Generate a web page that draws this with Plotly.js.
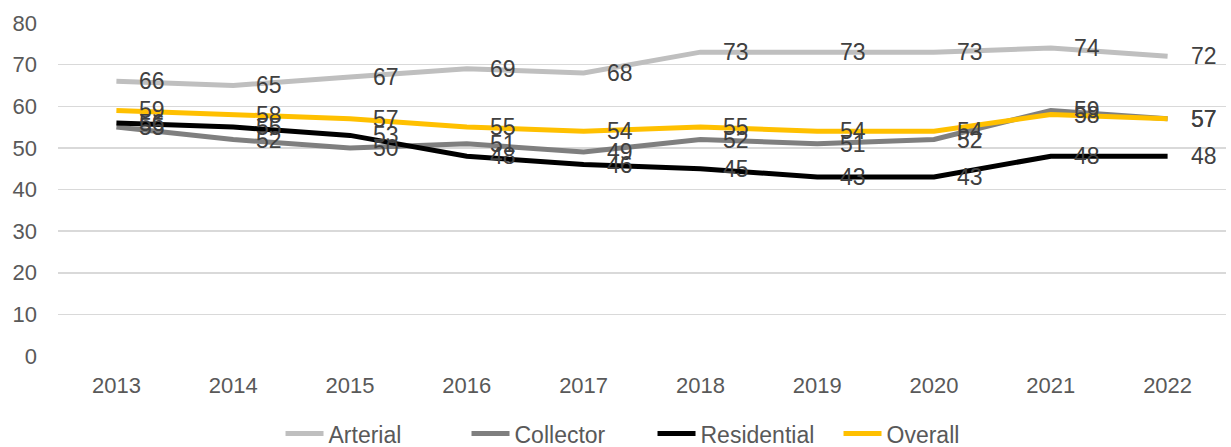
<!DOCTYPE html>
<html>
<head>
<meta charset="utf-8">
<script src="https://cdn.plot.ly/plotly-3.0.1.min.js"></script>
<style>html,body{margin:0;padding:0;background:#fff;}#chart{width:1231px;height:447px;}</style>
</head>
<body>
<div id="chart"></div>
<script>
const years = ['2013','2014','2015','2016','2017','2018','2019','2020','2021','2022'];
const arterial = [66,65,67,69,68,73,73,73,74,72];
const collector = [55,52,50,51,49,52,51,52,59,57];
const residential = [56,55,53,48,46,45,43,43,48,48];
const overall = [59,58,57,55,54,55,54,54,58,57];
const seriesNames = ['Arterial','Collector','Residential','Overall'];
const seriesColors = ['#bfbfbf','#7f7f7f','#000000','#ffc000'];
const seriesData = [arterial, collector, residential, overall];

const FONT = 'Liberation Sans, Arial, sans-serif';
const traces = seriesData.map((d,i)=>({
  type:'scatter', mode:'lines', x:years, y:d, name:seriesNames[i],
  line:{color:seriesColors[i], width:5}, hoverinfo:'skip'
}));

const annotations = [];
seriesData.forEach(d=>{
  d.forEach((v,j)=>{
    annotations.push({x:j, y:v, xref:'x', yref:'y', text:String(v), showarrow:false,
      xanchor:'left', yanchor:'middle', xshift:21, font:{size:23, color:'#404040', family:FONT}});
  });
});

const layout = {
  width:1231, height:447,
  margin:{l:58, r:5, t:23, b:91},
  paper_bgcolor:'#fff', plot_bgcolor:'#fff',
  font:{family:FONT, color:'#595959', size:22},
  showlegend:true,
  legend:{orientation:'h', x:0.509, xanchor:'center', xref:'paper', yref:'container', y:0.03, yanchor:'middle', font:{size:23, color:'#595959'}, itemwidth:38, entrywidth:133, entrywidthmode:'pixels', tracegroupgap:0},
  xaxis:{type:'category', range:[-0.5,9.5], showgrid:false, zeroline:false, showline:false, ticks:'', tickfont:{size:22, color:'#595959'}, ticklabelstandoff:14},
  yaxis:{range:[0,80], dtick:10, showgrid:true, gridcolor:'#d9d9d9', gridwidth:1.5, zeroline:false, showline:false, ticks:'', tickfont:{size:22,color:'#595959'}, ticklabelstandoff:20},
  annotations:annotations
};
Plotly.newPlot('chart', traces, layout, {displayModeBar:false, staticPlot:true});
</script>
</body>
</html>
